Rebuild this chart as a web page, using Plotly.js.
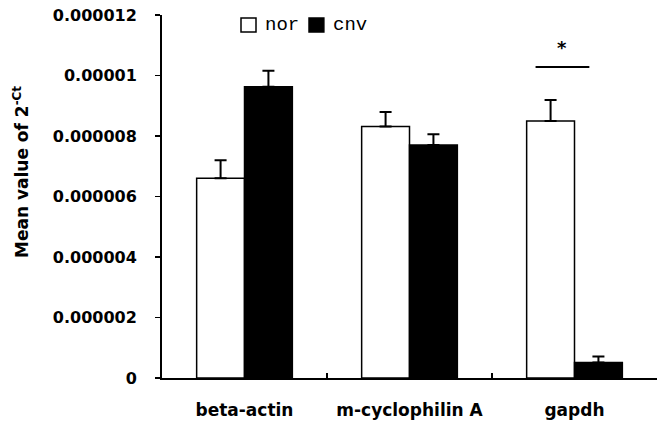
<!DOCTYPE html>
<html><head><meta charset="utf-8">
<script src="https://cdn.plot.ly/plotly-3.0.1.min.js"></script>
<style>html,body{margin:0;padding:0;background:#fff}</style>
</head><body>
<div id="chart" style="width:664px;height:428px"></div>
<script>
const categories = ["beta-actin", "m-cyclophilin A", "gapdh"];
const seriesNames = ["nor", "cnv"];
const norValues = [6.6e-6, 8.31e-6, 8.5e-6];
const norErrors = [0.6e-6, 0.48e-6, 0.69e-6];
const cnvValues = [9.63e-6, 7.7e-6, 0.51e-6];
const cnvErrors = [0.53e-6, 0.36e-6, 0.2e-6];
const yTickVals = [0, 2e-6, 4e-6, 6e-6, 8e-6, 10e-6, 12e-6];
const yTickText = ["0", "0.000002", "0.000004", "0.000006", "0.000008", "0.00001", "0.000012"];
const yTitle = 'Mean value of 2<sup>-Ct</sup>';

const zeros = categories.map(() => 0);
const traces = [
  {type: 'bar', name: seriesNames[0], x: categories, y: norValues,
   marker: {color: '#fff', line: {color: '#000', width: 1.5}},
   error_y: {type: 'data', symmetric: false, array: norErrors, arrayminus: zeros, color: '#000', thickness: 2, width: 6}},
  {type: 'bar', name: seriesNames[1], x: categories, y: cnvValues,
   marker: {color: '#000', line: {color: '#000', width: 1.5}},
   error_y: {type: 'data', symmetric: false, array: cnvErrors, arrayminus: zeros, color: '#000', thickness: 2, width: 6}}
];

const boldFont = 'DejaVu Sans, Liberation Sans, Arial, sans-serif';
const monoFont = 'Liberation Mono, Courier New, monospace';

const layout = {
  width: 664, height: 428,
  margin: {l: 162, r: 7, t: 15, b: 50},
  paper_bgcolor: '#fff', plot_bgcolor: '#fff',
  barmode: 'group', bargap: 0.42, bargroupgap: 0,
  showlegend: false,
  xaxis: {
    type: 'category', showline: true, linecolor: '#000', linewidth: 2,
    ticks: 'inside', tickson: 'boundaries', ticklen: 5, tickwidth: 1.5, tickcolor: '#000',
    showgrid: false, zeroline: false, ticklabelstandoff: 16,
    tickfont: {family: boldFont, size: 17, color: '#000', weight: 'bold'}
  },
  yaxis: {
    range: [0, 12e-6], showline: true, linecolor: '#000', linewidth: 2,
    ticks: 'outside', ticklen: 5, tickwidth: 1.5, tickcolor: '#000',
    tickvals: yTickVals, ticktext: yTickText, ticklabelstandoff: 15,
    showgrid: false, zeroline: false,
    tickfont: {family: boldFont, size: 16, color: '#000', weight: 'bold'}
  },
  shapes: [
    {type: 'line', xref: 'x', yref: 'y', x0: 1.764, x1: 2.09, y0: 10.28e-6, y1: 10.28e-6,
     line: {color: '#000', width: 2}},
    {type: 'rect', xref: 'paper', yref: 'paper', x0: 0.1596, x1: 0.1899, y0: 0.953, y1: 0.9917,
     fillcolor: '#fff', line: {color: '#000', width: 1.5}},
    {type: 'rect', xref: 'paper', yref: 'paper', x0: 0.297, x1: 0.327, y0: 0.953, y1: 0.9917,
     fillcolor: '#000', line: {color: '#000', width: 1.5}}
  ],
  annotations: [
    {xref: 'paper', yref: 'paper', x: -0.2848, y: 0.5675, textangle: -90,
     xanchor: 'center', yanchor: 'middle', text: yTitle, showarrow: false,
     font: {family: boldFont, size: 17, color: '#000', weight: 'bold'}},
    {xref: 'x', yref: 'y', x: 1.927, y: 10.92e-6, text: '*', showarrow: false,
     font: {family: boldFont, size: 18, color: '#000', weight: 'bold'}},
    {xref: 'paper', yref: 'paper', x: 0.204, y: 0.972, xanchor: 'left', yanchor: 'middle',
     text: seriesNames[0], showarrow: false, font: {family: monoFont, size: 19, color: '#000'}},
    {xref: 'paper', yref: 'paper', x: 0.342, y: 0.972, xanchor: 'left', yanchor: 'middle',
     text: seriesNames[1], showarrow: false, font: {family: monoFont, size: 19, color: '#000'}}
  ]
};

Plotly.newPlot('chart', traces, layout, {displayModeBar: false, staticPlot: true});
</script>
</body></html>
